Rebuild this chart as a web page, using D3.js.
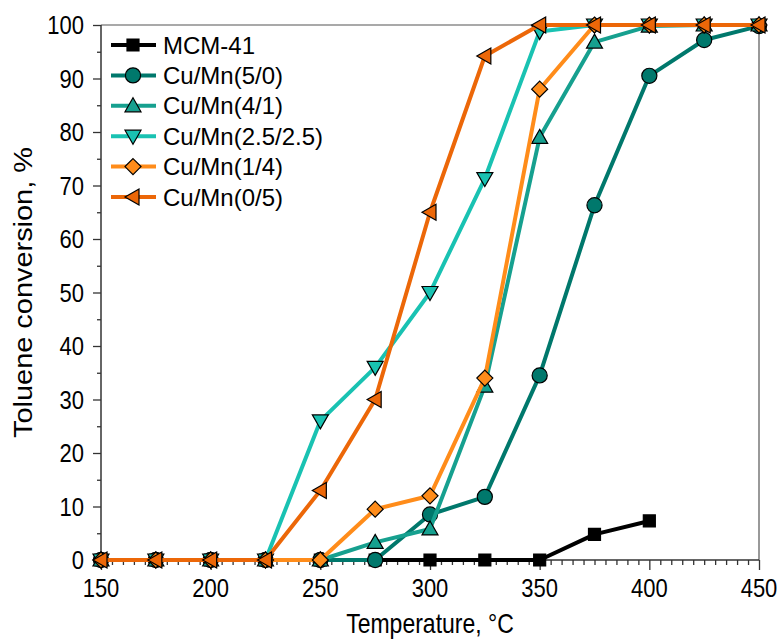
<!DOCTYPE html>
<html>
<head>
<meta charset="utf-8">
<script src="https://cdn.jsdelivr.net/npm/d3@7/dist/d3.min.js"></script>
<style>
  body { margin: 0; background: #fff; }
  text { font-family: "Liberation Sans", Arial, sans-serif; fill: #000; }
</style>
</head>
<body>
<script>
const width = 779;
const height = 641;

const temps = [150, 175, 200, 225, 250, 275, 300, 325, 350, 375, 400, 425, 450];
const seriesNames = ["MCM-41", "Cu/Mn(5/0)", "Cu/Mn(4/1)", "Cu/Mn(2.5/2.5)", "Cu/Mn(1/4)", "Cu/Mn(0/5)"];
const mcm41 = [0, 0, 0, 0, 0, 0, 0, 0, 0, 4.8, 7.3];
const cuMn50 = [0, 0, 0, 0, 0, 0, 8.5, 11.8, 34.5, 66.3, 90.5, 97.2, 99.8];
const cuMn41 = [0, 0, 0, 0, 0, 3.3, 5.8, 32.5, 79, 96.8, 99.8, 100, 100];
const cuMn2525 = [0, 0, 0, 0, 26, 36, 50, 71.3, 98.8, 100, 100, 100, 100];
const cuMn14 = [0, 0, 0, 0, 0, 9.5, 12, 34, 88, 100, 100, 100, 100];
const cuMn05 = [0, 0, 0, 0, 13, 30, 65, 94.2, 100, 100, 100, 100, 100];
const xTicks = [150, 200, 250, 300, 350, 400, 450];
const yTicks = [0, 10, 20, 30, 40, 50, 60, 70, 80, 90, 100];

const colors = ["#000000", "#00786c", "#16a08f", "#19c2b2", "#ff8c1a", "#ec6708"];
const markers = ["square", "circle", "up", "down", "diamond", "left"];
const allValues = [mcm41, cuMn50, cuMn41, cuMn2525, cuMn14, cuMn05];

const series = seriesNames.map((name, i) => ({
    name: name,
    color: colors[i],
    marker: markers[i],
    points: allValues[i].map((v, j) => ({ x: temps[j], y: v }))
}));

const x = d3.scaleLinear().domain([150, 450]).range([101, 759]);
const y = d3.scaleLinear().domain([0, 100]).range([560, 25]);

const svg = d3.select("body").append("svg")
    .attr("width", width)
    .attr("height", height);

// frame (top and right)
svg.append("line").attr("x1", x(150)).attr("x2", x(450)).attr("y1", y(100)).attr("y2", y(100))
    .attr("stroke", "#555").attr("stroke-width", 1.2);
svg.append("line").attr("x1", x(450)).attr("x2", x(450)).attr("y1", y(100)).attr("y2", y(0))
    .attr("stroke", "#555").attr("stroke-width", 1.2);

// axes
const xAxis = svg.append("g").attr("transform", `translate(0,${y(0)})`);
xAxis.call(d3.axisBottom(x).tickValues(d3.range(150, 451, 5)).tickSize(5).tickFormat(""));
xAxis.call(g => g.selectAll(".tick").filter(d => d % 50 === 0).select("line").attr("y2", 10));
xAxis.selectAll("path.domain").remove();
xAxis.append("line").attr("x1", x(150)).attr("x2", x(450)).attr("stroke", "#333").attr("stroke-width", 1.5);
xAxis.selectAll(".tick line").attr("stroke", "#333").attr("stroke-width", 1.3);

// text is slightly taller than wide in the reference
const stretch = 1.18;

svg.append("g").selectAll("text")
    .data(xTicks)
    .enter().append("text")
    .attr("transform", d => `translate(${x(d)},${y(0) + 37}) scale(1,${stretch})`)
    .attr("text-anchor", "middle")
    .style("font-size", "22px")
    .text(d => d);

const yAxis = svg.append("g").attr("transform", `translate(${x(150)},0)`);
yAxis.call(d3.axisLeft(y).tickValues(d3.range(0, 101, 5)).tickSize(4).tickFormat(""));
yAxis.call(g => g.selectAll(".tick").filter(d => d % 10 === 0).select("line").attr("x2", -8));
yAxis.selectAll("path.domain").remove();
yAxis.append("line").attr("y1", y(0)).attr("y2", y(100)).attr("stroke", "#333").attr("stroke-width", 1.5);
yAxis.selectAll(".tick line").attr("stroke", "#333").attr("stroke-width", 1.3);

svg.append("g").selectAll("text")
    .data(yTicks)
    .enter().append("text")
    .attr("transform", d => `translate(${x(150) - 17},${y(d) + 9}) scale(1,${stretch})`)
    .attr("text-anchor", "end")
    .style("font-size", "22px")
    .text(d => d);

svg.append("text")
    .attr("transform", `translate(${(x(150) + x(450)) / 2},633) scale(1,${stretch})`)
    .attr("text-anchor", "middle")
    .style("font-size", "23px")
    .text("Temperature, °C");

svg.append("text")
    .attr("transform", `translate(32,${(y(0) + y(100)) / 2}) rotate(-90)`)
    .attr("text-anchor", "middle")
    .attr("textLength", 291)
    .attr("lengthAdjust", "spacingAndGlyphs")
    .style("font-size", "25px")
    .text("Toluene conversion, %");

// marker shapes
function markerPath(type) {
    const s = 7;
    switch (type) {
        case "square": return `M${-6},${-6}h12v12h-12Z`;
        case "circle": return d3.symbol(d3.symbolCircle, 180)();
        case "up": return `M0,${-s - 1}L${s + 1},${s - 1}L${-s - 1},${s - 1}Z`;
        case "down": return `M0,${s + 1}L${s + 1},${-s + 1}L${-s - 1},${-s + 1}Z`;
        case "diamond": return `M0,${-s - 1}L${s + 1},0L0,${s + 1}L${-s - 1},0Z`;
        case "left": return `M${-s - 1},0L${s - 1},${-s - 1}L${s - 1},${s + 1}Z`;
    }
}

const line = d3.line().x(d => x(d.x)).y(d => y(d.y));

const plot = svg.append("g");
series.forEach(s => {
    const g = plot.append("g");
    g.append("path")
        .datum(s.points)
        .attr("d", line)
        .attr("fill", "none")
        .attr("stroke", s.color)
        .attr("stroke-width", 4)
        .attr("stroke-linejoin", "round");
    g.selectAll("path.mk")
        .data(s.points)
        .enter().append("path")
        .attr("class", "mk")
        .attr("transform", d => `translate(${x(d.x)},${y(d.y)})`)
        .attr("d", markerPath(s.marker))
        .attr("fill", s.color)
        .attr("stroke", "#000")
        .attr("stroke-width", 1.2);
});

// legend
const legend = svg.append("g");
series.forEach((s, i) => {
    const ly = 45 + i * 30.4;
    legend.append("line")
        .attr("x1", 111).attr("x2", 156)
        .attr("y1", ly).attr("y2", ly)
        .attr("stroke", s.color).attr("stroke-width", 4);
    legend.append("path")
        .attr("transform", `translate(133,${ly})`)
        .attr("d", markerPath(s.marker))
        .attr("fill", s.color)
        .attr("stroke", "#000")
        .attr("stroke-width", 1.2);
    legend.append("text")
        .attr("x", 163)
        .attr("y", ly + 8.5)
        .style("font-size", "24px")
        .text(s.name);
});
</script>
</body>
</html>
